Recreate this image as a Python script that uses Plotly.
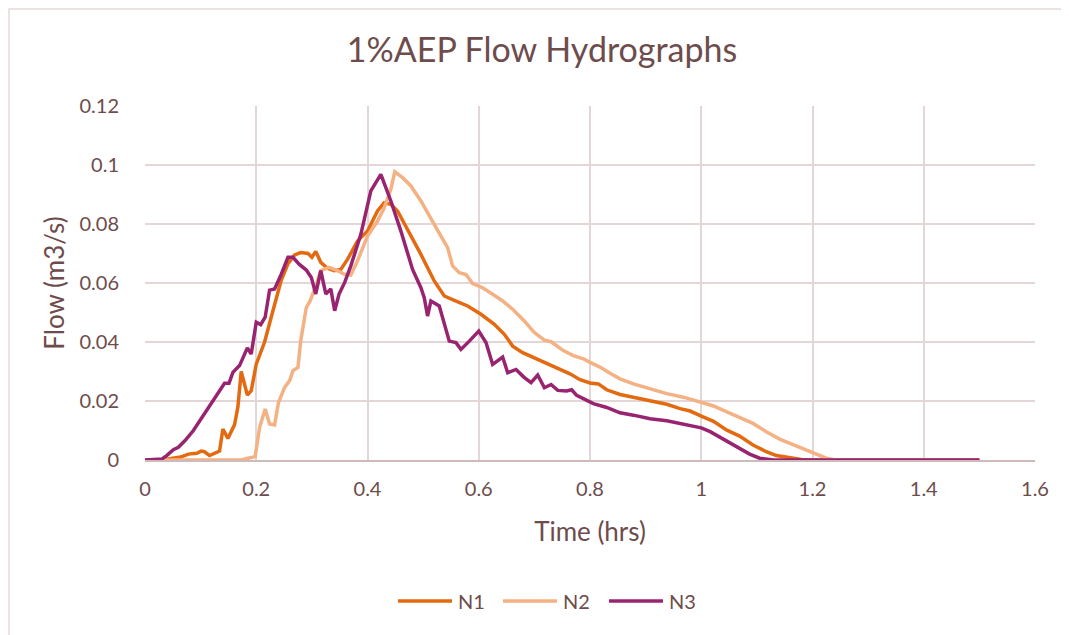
import plotly.graph_objects as go

# ---- data ----
n1_t = [0, 0.03, 0.064, 0.078, 0.093, 0.101, 0.107, 0.116, 0.134, 0.140, 0.149, 0.161, 0.167, 0.173, 0.184,
        0.191, 0.2, 0.215, 0.23, 0.245, 0.257, 0.269, 0.28, 0.293, 0.3, 0.307, 0.316, 0.328, 0.340, 0.352,
        0.364, 0.382, 0.4, 0.418, 0.43, 0.442, 0.454, 0.472, 0.496, 0.52, 0.538, 0.556, 0.58, 0.604, 0.628,
        0.646, 0.661, 0.679, 0.70, 0.734, 0.764, 0.782, 0.8, 0.815, 0.83, 0.854, 0.878, 0.908, 0.938, 0.962,
        0.98, 1.0, 1.022, 1.046, 1.069, 1.093, 1.117, 1.135, 1.165, 1.18, 1.2, 1.5]
n1_q = [0, 0, 0.001, 0.002, 0.0023, 0.003, 0.0028, 0.0015, 0.003, 0.0105, 0.0073, 0.012, 0.018, 0.030, 0.022,
        0.0235, 0.0325, 0.040, 0.0506, 0.061, 0.0665, 0.0695, 0.0703, 0.070, 0.0687, 0.0707, 0.067, 0.065,
        0.0642, 0.0646, 0.068, 0.0742, 0.0776, 0.0844, 0.0872, 0.0867, 0.0844, 0.0782, 0.0697, 0.0607, 0.0556,
        0.0541, 0.0522, 0.0494, 0.046, 0.0426, 0.0386, 0.0364, 0.0347, 0.0317, 0.0292, 0.0272, 0.0261, 0.0258,
        0.0238, 0.0222, 0.0213, 0.020, 0.0189, 0.0174, 0.0166, 0.0149, 0.0131, 0.0101, 0.0081, 0.0051, 0.0028,
        0.0015, 0.0006, 0.0002, 0, 0]

n2_t = [0, 0.173, 0.185, 0.198, 0.206, 0.216, 0.224, 0.233, 0.24, 0.251, 0.26, 0.266, 0.275, 0.28, 0.29, 0.297,
        0.307, 0.316, 0.331, 0.346, 0.358, 0.37, 0.382, 0.4, 0.418, 0.43, 0.442, 0.449, 0.463, 0.478, 0.496,
        0.514, 0.532, 0.544, 0.553, 0.565, 0.577, 0.589, 0.607, 0.625, 0.643, 0.661, 0.682, 0.70, 0.718, 0.73,
        0.752, 0.77, 0.788, 0.8, 0.818, 0.836, 0.854, 0.878, 0.908, 0.938, 0.968, 1.0, 1.022, 1.046, 1.069,
        1.093, 1.117, 1.141, 1.165, 1.195, 1.207, 1.225, 1.237, 1.25, 1.5]
n2_q = [0, 0, 0.0006, 0.0011, 0.011, 0.0173, 0.0122, 0.0119, 0.0195, 0.0246, 0.0269, 0.0303, 0.0314, 0.0405,
        0.0517, 0.054, 0.059, 0.0642, 0.0653, 0.0642, 0.063, 0.0627, 0.0675, 0.0759, 0.081, 0.0855, 0.0918,
        0.0977, 0.0957, 0.0929, 0.0878, 0.0816, 0.0759, 0.072, 0.0658, 0.0635, 0.0629, 0.0598, 0.0584, 0.0562,
        0.0539, 0.0511, 0.0471, 0.0432, 0.0406, 0.0401, 0.0371, 0.0354, 0.0343, 0.0331, 0.0315, 0.0294, 0.0275,
        0.0258, 0.0242, 0.0225, 0.0213, 0.0197, 0.0183, 0.0163, 0.0144, 0.0124, 0.0096, 0.0071, 0.0052, 0.0029,
        0.0017, 0.0006, 0.0002, 0, 0]

n3_t = [0, 0.03, 0.039, 0.051, 0.06, 0.072, 0.087, 0.101, 0.116, 0.131, 0.143, 0.151, 0.158, 0.17, 0.176, 0.184,
        0.191, 0.2, 0.208, 0.216, 0.224, 0.233, 0.245, 0.257, 0.266, 0.277, 0.29, 0.299, 0.307, 0.316, 0.325,
        0.334, 0.341, 0.349, 0.359, 0.37, 0.388, 0.406, 0.424, 0.442, 0.46, 0.481, 0.496, 0.502, 0.508, 0.514,
        0.529, 0.538, 0.547, 0.559, 0.568, 0.583, 0.6, 0.613, 0.625, 0.643, 0.652, 0.667, 0.681, 0.694, 0.706,
        0.718, 0.73, 0.742, 0.758, 0.767, 0.776, 0.788, 0.806, 0.83, 0.854, 0.878, 0.908, 0.938, 0.968, 1.0,
        1.016, 1.04, 1.064, 1.087, 1.105, 1.129, 1.5]
n3_q = [0, 0.0003, 0.0015, 0.0035, 0.0043, 0.0066, 0.01, 0.0139, 0.0184, 0.0224, 0.026, 0.026, 0.0297, 0.032,
        0.0348, 0.038, 0.0359, 0.0467, 0.0459, 0.0484, 0.0576, 0.058, 0.063, 0.0687, 0.0687, 0.0664, 0.0644,
        0.0619, 0.0563, 0.0642, 0.0563, 0.058, 0.0506, 0.0563, 0.0602, 0.0658, 0.0765, 0.0912, 0.0968, 0.0878,
        0.0776, 0.0646, 0.0584, 0.055, 0.0488, 0.0539, 0.0522, 0.0466, 0.0403, 0.0398, 0.0375, 0.0403, 0.0437,
        0.0398, 0.0324, 0.0349, 0.0296, 0.0307, 0.0281, 0.0262, 0.0288, 0.0245, 0.0256, 0.0236, 0.0234, 0.0238,
        0.0219, 0.0208, 0.0191, 0.0178, 0.016, 0.0152, 0.014, 0.0133, 0.0121, 0.0109, 0.0096, 0.007, 0.0045,
        0.002, 0.0006, 0, 0]

series_names = ["N1", "N2", "N3"]
series_colors = ["#E46A12", "#F4B183", "#982470"]

x_ticks = [0, 0.2, 0.4, 0.6, 0.8, 1, 1.2, 1.4, 1.6]
x_ticklabels = ["0", "0.2", "0.4", "0.6", "0.8", "1", "1.2", "1.4", "1.6"]
y_ticks = [0, 0.02, 0.04, 0.06, 0.08, 0.1, 0.12]
y_ticklabels = ["0", "0.02", "0.04", "0.06", "0.08", "0.1", "0.12"]

TEXT = "#6E4C4C"
GRID = "#E2D6D6"
AXIS = "#CDBABA"
FONT = "Lato"

OFF = 8  # page body margin
W, H = 1069 - OFF, 635 - OFF
PL, PR, PT, PB = 145, 1035, 106, 460   # plot area in page pixels
L, R, T, B = PL - OFF, W - (PR - OFF), PT - OFF, H - (PB - OFF)
PW, PH = PR - PL, PB - PT


def px(x):
    return (x - PL) / PW


def py(y):
    return (PB - y) / PH


fig = go.Figure()
for t, q, name, col in zip([n1_t, n2_t, n3_t], [n1_q, n2_q, n3_q], series_names, series_colors):
    fig.add_trace(go.Scatter(x=t, y=q, mode="lines", name=name,
                             line=dict(color=col, width=3.5), showlegend=False))

shapes = []
annotations = []
# chart-area border (top and left edges visible)
shapes.append(dict(type="rect", xref="paper", yref="paper", x0=px(OFF + 1), x1=px(1100), y0=py(OFF + 1),
                   y1=py(700), line=dict(color="#E6D9D9", width=1.5), fillcolor="rgba(0,0,0,0)", layer="below"))

# custom legend
leg_y = py(601)
starts = [398, 503, 609]
for s, name, col in zip(starts, series_names, series_colors):
    shapes.append(dict(type="line", xref="paper", yref="paper", x0=px(s), x1=px(s + 54), y0=leg_y, y1=leg_y,
                       line=dict(color=col, width=3.5)))
    annotations.append(dict(x=px(s + 58), y=leg_y, xref="paper", yref="paper", text=name, showarrow=False,
                            xanchor="left", yanchor="middle", font=dict(family=FONT, size=20, color=TEXT)))

fig.update_layout(
    width=W, height=H,
    margin=dict(l=L, r=R, t=T, b=B, pad=0),
    paper_bgcolor="white", plot_bgcolor="white",
    title=dict(text="1%AEP Flow Hydrographs", xref="container", x=(542 - OFF) / W, xanchor="center",
               yref="container", y=1 - (50 - OFF) / H, yanchor="middle",
               font=dict(family=FONT, size=34, color=TEXT)),
    shapes=shapes, annotations=annotations,
    xaxis=dict(range=[0, 1.6], tickvals=x_ticks, ticktext=x_ticklabels, showgrid=True, gridcolor=GRID,
               gridwidth=1.5, zeroline=False, showline=True, linecolor=AXIS, linewidth=2, ticks="",
               tickfont=dict(family=FONT, size=20, color=TEXT), ticklabelstandoff=10,
               title=dict(text="Time (hrs)", font=dict(family=FONT, size=26, color=TEXT), standoff=24)),
    yaxis=dict(range=[0, 0.12], tickvals=y_ticks, ticktext=y_ticklabels, showgrid=True, gridcolor=GRID,
               gridwidth=1.5, zeroline=False, showline=False, ticks="",
               tickfont=dict(family=FONT, size=20, color=TEXT), ticklabelstandoff=25,
               title=dict(text="Flow (m3/s)", font=dict(family=FONT, size=26, color=TEXT), standoff=7)),
)

fig.write_html("out.html")
